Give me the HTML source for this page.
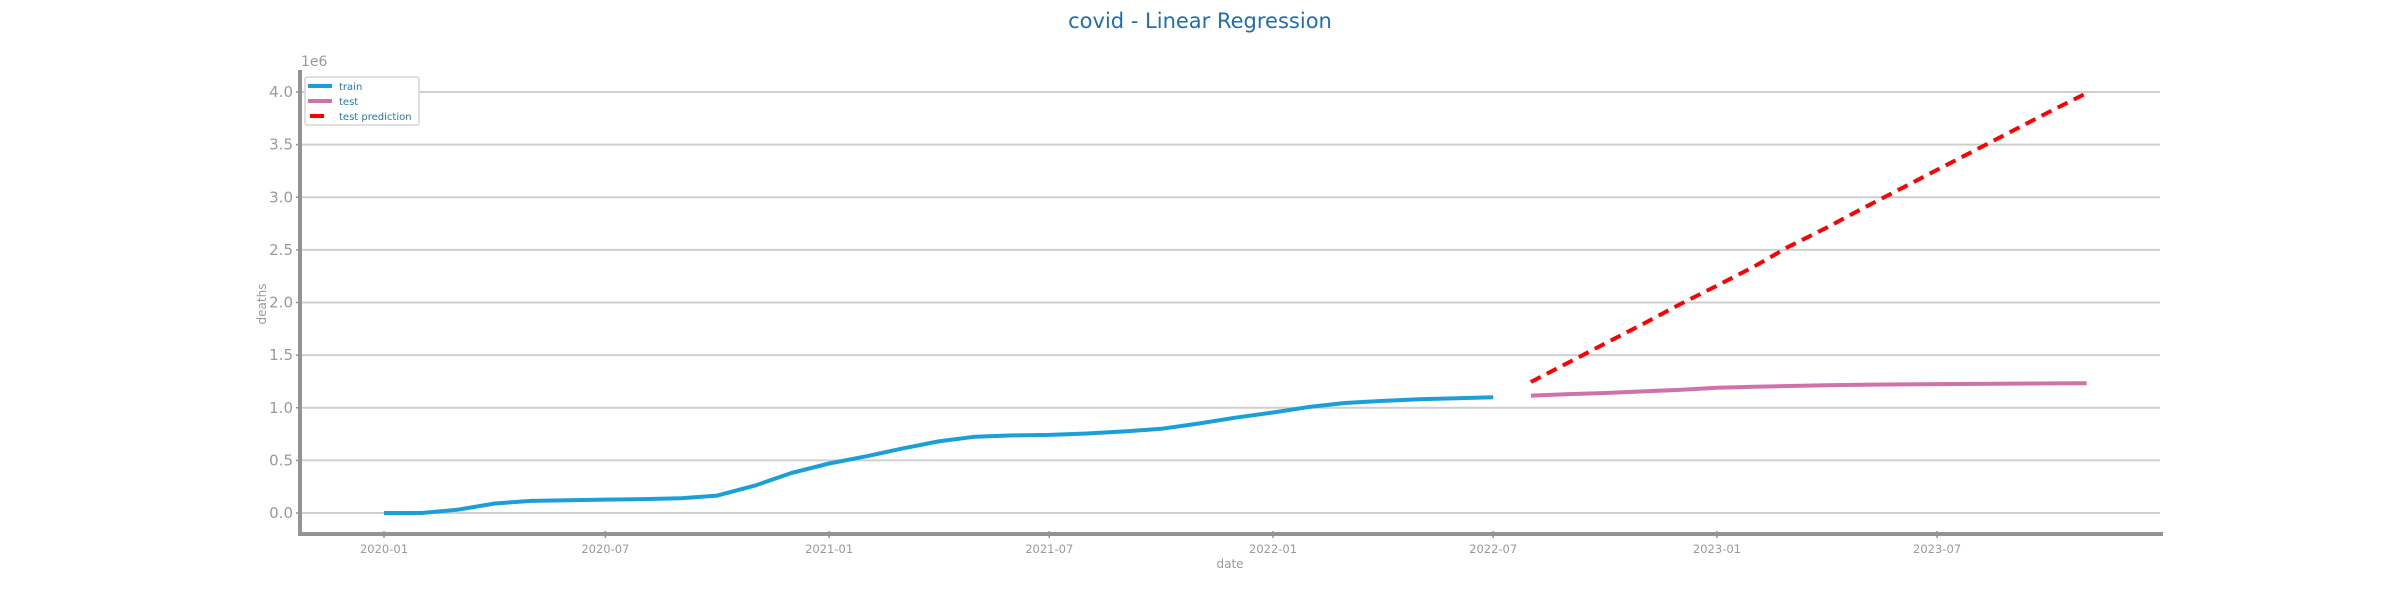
<!DOCTYPE html>
<html><head><meta charset="utf-8">
<style>
html,body{margin:0;padding:0;background:#fff;}
svg{display:block;font-family:"DejaVu Sans","Liberation Sans",sans-serif;}
</style></head>
<body>
<svg id="chart" width="2400" height="600" viewBox="0 0 2400 600">
<text x="1200" y="28" text-anchor="middle" font-size="21" fill="#1f6fb0">covid - Linear Regression</text>
<g id="grid"></g>
<g id="yticks"></g>
<g id="xticks"></g>
<g id="series"></g>
<line x1="300" y1="70" x2="300" y2="536" stroke="#939396" stroke-width="4"/>
<line x1="298" y1="534" x2="2163" y2="534" stroke="#939396" stroke-width="4"/>
<text x="301" y="66" font-size="14" fill="#999">1e6</text>
<text x="266" y="304" font-size="12" fill="#999" text-anchor="middle" transform="rotate(-90 266 304)">deaths</text>
<text x="1230" y="568" font-size="12" fill="#999" text-anchor="middle">date</text>
<g>
<rect x="305" y="77" width="114" height="48" rx="2" fill="#fff" stroke="#d6d6d6" stroke-width="1.5"/>
<line x1="308" y1="86" x2="332" y2="86" stroke="#1b9fd9" stroke-width="4"/>
<text x="339" y="90" font-size="10" fill="#1f77b4">train</text>
<line x1="308" y1="101" x2="332" y2="101" stroke="#cf72aa" stroke-width="4"/>
<text x="339" y="105" font-size="10" fill="#1f77b4">test</text>
<line x1="310" y1="116" x2="324" y2="116" stroke="#ff0000" stroke-width="4"/>
<text x="339" y="120" font-size="10" fill="#1f77b4">test prediction</text>
</g>
</svg>
<script>
const trainDates = ["2020-01","2020-02","2020-03","2020-04","2020-05","2020-06","2020-07","2020-08","2020-09","2020-10","2020-11","2020-12","2021-01","2021-02","2021-03","2021-04","2021-05","2021-06","2021-07","2021-08","2021-09","2021-10","2021-11","2021-12","2022-01","2022-02","2022-03","2022-04","2022-05","2022-06","2022-07"];
const trainValues = [0,0,0.03,0.09,0.115,0.122,0.127,0.132,0.14,0.165,0.26,0.38,0.47,0.54,0.61,0.68,0.725,0.737,0.742,0.755,0.775,0.8,0.85,0.905,0.955,1.01,1.045,1.065,1.08,1.09,1.1];
const testDates = ["2022-08","2022-09","2022-10","2022-11","2022-12","2023-01","2023-02","2023-03","2023-04","2023-05","2023-06","2023-07","2023-08","2023-09","2023-10","2023-11"];
const testValues = [1.115,1.13,1.14,1.155,1.17,1.19,1.2,1.207,1.213,1.218,1.222,1.225,1.227,1.229,1.231,1.233];
const predValues = [1.245,1.43,1.61,1.795,1.98,2.16,2.345,2.53,2.71,2.895,3.08,3.26,3.445,3.63,3.81,3.99];
const yTicks = [0,0.5,1.0,1.5,2.0,2.5,3.0,3.5,4.0];
const yTickLabels = ["0.0","0.5","1.0","1.5","2.0","2.5","3.0","3.5","4.0"];
const xTickLabels = ["2020-01","2020-07","2021-01","2021-07","2022-01","2022-07","2023-01","2023-07"];

const NS = "http://www.w3.org/2000/svg";
const t0 = Date.UTC(2020,0,1);
function xScale(s){const [y,m]=s.split("-").map(Number);const d=(Date.UTC(y,m-1,1)-t0)/86400000;return 384+d*1.2162;}
function yScale(v){return 513-v*105.25;}
function mk(tag,attrs,parent){const e=document.createElementNS(NS,tag);for(const k in attrs)e.setAttribute(k,attrs[k]);parent.appendChild(e);return e;}
const grid=document.getElementById("grid"),yt=document.getElementById("yticks"),xt=document.getElementById("xticks"),ser=document.getElementById("series");
yTicks.forEach((v,i)=>{
  const y=yScale(v);
  const g=mk("line",{x1:300,y1:y,x2:2160,y2:y,stroke:"#cfcfcf","stroke-width":2},grid);
  
  
  const tk=mk("line",{x1:296,y1:y,x2:302,y2:y,stroke:"#939396","stroke-width":1.5},yt);
  
  
  const t=mk("text",{x:293,y:y+5,"text-anchor":"end","font-size":15,fill:"#999"},yt);
  t.textContent=yTickLabels[i];
  
  
});
xTickLabels.forEach(s=>{
  const x=xScale(s);
  const tk=mk("line",{x1:x,y1:531,x2:x,y2:538,stroke:"#939396","stroke-width":1.5},xt);
  
  
  const t=mk("text",{x:x,y:553,"text-anchor":"middle","font-size":11.5,fill:"#999"},xt);
  t.textContent=s;
  
  
});
function pts(d,v){return d.map((s,i)=>xScale(s).toFixed(1)+","+yScale(v[i]).toFixed(1)).join(" ");}
const l1=mk("polyline",{points:pts(trainDates,trainValues),fill:"none",stroke:"#1b9fd9","stroke-width":4,"stroke-linejoin":"round"},ser);


const l2=mk("polyline",{points:pts(testDates,testValues),fill:"none",stroke:"#cf72aa","stroke-width":4,"stroke-linejoin":"round"},ser);


const l3=mk("polyline",{points:pts(testDates,predValues),fill:"none",stroke:"#ff0000","stroke-width":4,"stroke-dasharray":"11 7"},ser);


</script>
</body></html>
